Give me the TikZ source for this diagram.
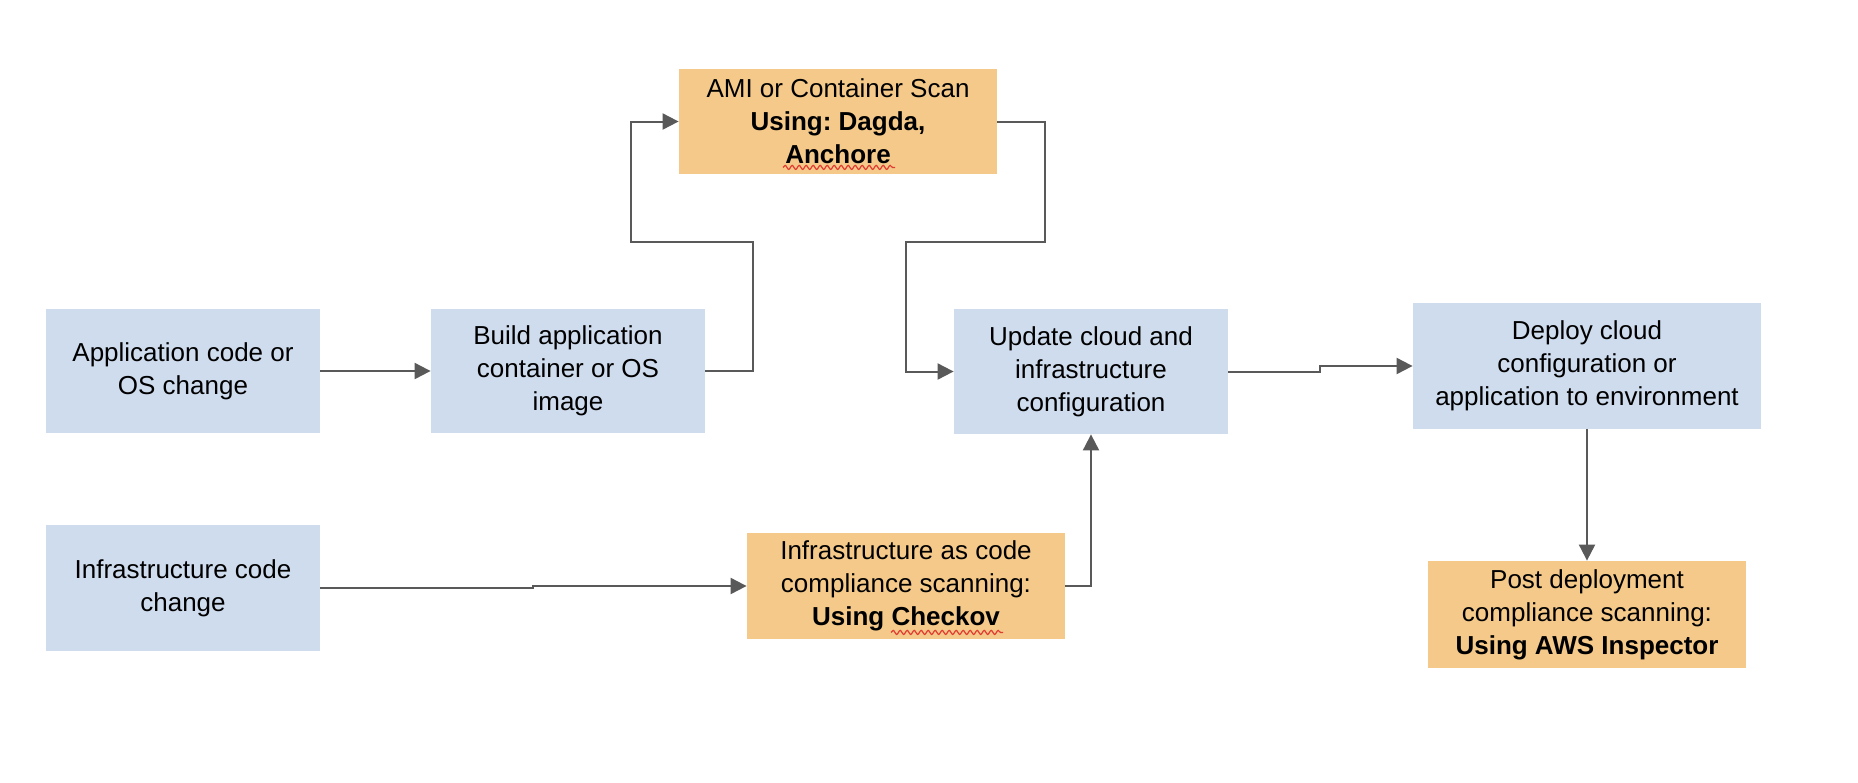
\documentclass[tikz,border=0pt]{standalone}
\usepackage{fontspec}
\setmainfont{Liberation Sans}
\usepackage{tikz}
\usetikzlibrary{positioning}
\usetikzlibrary{arrows.meta, calc, decorations.pathmorphing}

\definecolor{boxblue}{HTML}{CFDCEE}
\definecolor{boxorange}{HTML}{F4C98A}
\definecolor{linegray}{HTML}{595959}
\definecolor{spellred}{HTML}{E03C31}
\frenchspacing

\begin{document}
\begin{tikzpicture}[x=0.5pt, y=-0.5pt]

\tikzset{step box/.style={
		rectangle,
		fill=#1,
		draw=none,
		align=center,
		inner sep=0pt,
		font=\fontsize{13}{16.5}\selectfont
	},
	step box/.default=boxblue,
	blue box/.style={step box=boxblue},
	scan box/.style={step box=boxorange},
	flow/.style={
		draw=linegray,
		line width=1pt,
		-{Triangle[length=8pt,width=8pt]}
	},
	spell/.style={
		draw=spellred,
		line width=0.6pt,
		decorate,
		decoration={snake, amplitude=1pt, segment length=3.5pt}
	}
}
\useasboundingbox (0,0) rectangle (1858,782);

%top row
\node[blue box, minimum width=137pt, minimum height=62pt] (app) at (183,371)
	{Application code or\\OS change};
\node[blue box, minimum width=137pt, minimum height=62pt] (build) at (568,371)
	{Build application\\container or OS\\image};
\node[scan box, minimum width=159pt, minimum height=52.5pt] (ami) at (838,121.5)
	{AMI or Container Scan\\\textbf{Using: Dagda,}\\\textbf{Anchore}};
\node[blue box, minimum width=137pt, minimum height=62.5pt] (update) at (1091,371.5)
	{Update cloud and\\infrastructure\\configuration};
\node[blue box, minimum width=174pt, minimum height=63pt] (deploy) at (1587,366)
	{Deploy cloud\\configuration or\\application to environment};
\node[scan box, minimum width=159pt, minimum height=53.5pt] (post) at (1587,614.5)
	{Post deployment\\compliance scanning:\\\textbf{Using AWS Inspector}};

%bottom row
\node[blue box, minimum width=137pt, minimum height=63pt] (infra) at (183,588)
	{Infrastructure code\\change};
\node[scan box, minimum width=159pt, minimum height=53pt] (iac) at (906,586)
	{Infrastructure as code\\compliance scanning:\\\textbf{Using Checkov}};

%spell check marks
\draw[spell] ($(ami.south)+(-55,-7)$) -- ++(112,0);
\draw[spell] ($(iac.south)+(-15,-7)$) -- ++(112,0);

%connectors
\draw[flow] (app.east) -- (build.west);
\draw[flow] (build.east) -- ++(48,0) -- ++(0,-129) -| ($(ami.west)+(-48,0)$) -- (ami.west);
\draw[flow] (ami.east) -- ++(48,0) -- ++(0,120) -| ($(update.west)+(-48,0)$) -- (update.west);
\draw[flow] (update.east) -- ++(92,0) |- (deploy.west);
\draw[flow] (infra.east) -- ++(213,0) |- (iac.west);
\draw[flow] (iac.east) -| (update.south);
\draw[flow] (deploy.south) -- (post.north);

\end{tikzpicture}
\end{document}
